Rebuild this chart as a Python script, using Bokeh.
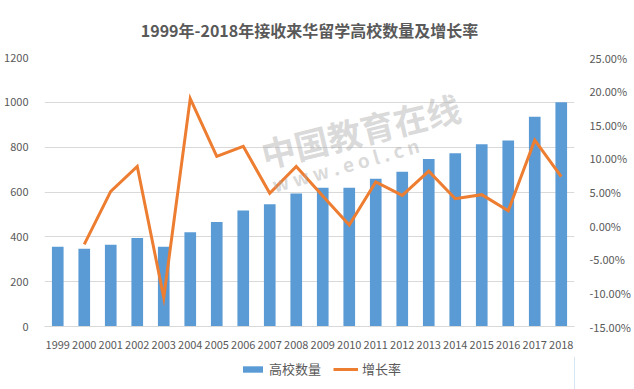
from bokeh.plotting import figure
from bokeh.layouts import column
from bokeh.models import (Range1d, LinearAxis, FixedTicker, NumeralTickFormatter,
                          Legend, LegendItem, Label, ColumnDataSource, FactorRange)
from bokeh.embed import file_html
from bokeh.resources import INLINE

years = [str(y) for y in range(1999, 2019)]
counts = [356, 347, 365, 395, 356, 420, 466, 518, 545, 593,
          619, 619, 659, 690, 747, 773, 813, 830, 936, 1000]
growth_years = years[1:]
growth_pct = [-2.8, 5.1, 8.8, -10.7, 18.9, 10.3, 11.8, 4.8, 8.8,
              4.4, 0.1, 6.5, 4.5, 8.1, 4.0, 4.6, 2.2, 12.7, 7.3]
left_ticks = [0, 200, 400, 600, 800, 1000, 1200]
right_ticks = [-0.15, -0.10, -0.05, 0.0, 0.05, 0.10, 0.15, 0.20, 0.25]
series_names = ["高校数量", "增长率"]

FONT = "Noto Sans CJK SC"
TXT = "#595959"
BAR_C = "#5b9bd5"
LINE_C = "#ed7d31"

W, H_MAIN, H_LEG = 634, 356, 33
p = figure(width=W, height=H_MAIN, output_backend="svg", toolbar_location=None,
           x_range=FactorRange(*years, range_padding=0),
           y_range=Range1d(0, 1200),
           min_border_left=44, min_border_right=60,
           min_border_top=54, min_border_bottom=30)
p.extra_y_ranges = {"rate": Range1d(-0.15, 0.25)}

p.outline_line_color = None
p.background_fill_color = "white"
p.border_fill_color = "white"

# grid
p.xgrid.grid_line_color = None
p.ygrid.grid_line_color = "#d9d9d9"
p.ygrid.grid_line_width = 1
p.ygrid.ticker = FixedTicker(ticks=left_ticks)

src_bar = ColumnDataSource(dict(x=years, y=counts))
src_line = ColumnDataSource(dict(x=growth_years, y=[v / 100 for v in growth_pct]))

bars = p.vbar(x="x", top="y", width=0.44, source=src_bar,
              fill_color=BAR_C, line_color=None)
line = p.line(x="x", y="y", source=src_line, y_range_name="rate",
              line_color=LINE_C, line_width=3, line_join="miter")

# watermark (drawn over the chart, semi-transparent)
wm1 = Label(x=217, y=172, x_units="screen", y_units="screen", text="中国教育在线",
            angle=0.24, text_font=FONT, text_font_size="34px", text_font_style="bold",
            text_color="#a6a6a6", text_alpha=0.42, text_baseline="middle")
wm2 = Label(x=228, y=142, x_units="screen", y_units="screen", text="w w w . e o l . c n",
            angle=0.27, text_font=FONT, text_font_size="19px", text_font_style="bold",
            text_color="#a6a6a6", text_alpha=0.42, text_baseline="middle")
p.add_layout(wm1)
p.add_layout(wm2)

# axes
ly = p.yaxis[0]
ly.ticker = FixedTicker(ticks=left_ticks)
ly.axis_line_color = None
ly.major_tick_line_color = None
ly.minor_tick_line_color = None
ly.major_label_text_font = FONT
ly.major_label_text_font_size = "11px"
ly.major_label_text_color = TXT
ly.major_label_standoff = 10

ry = LinearAxis(y_range_name="rate", ticker=FixedTicker(ticks=right_ticks),
                formatter=NumeralTickFormatter(format="0.00%"))
ry.axis_line_color = None
ry.major_tick_line_color = None
ry.minor_tick_line_color = None
ry.major_label_text_font = FONT
ry.major_label_text_font_size = "11px"
ry.major_label_text_color = TXT
ry.major_label_standoff = 9
p.add_layout(ry, "right")

xa = p.xaxis[0]
xa.axis_line_color = "#d9d9d9"
xa.major_tick_line_color = None
xa.minor_tick_line_color = None
xa.major_label_text_font = FONT
xa.major_label_text_font_size = "11px"
xa.major_label_text_color = TXT
xa.major_label_standoff = 8

# title
p.title.text = "1999年-2018年接收来华留学高校数量及增长率"
p.title.align = "center"
p.title.text_font = FONT
p.title.text_font_size = "16px"
p.title.text_font_style = "bold"
p.title.text_color = TXT
p.title.standoff = 31

# legend strip (separate small figure below the chart)
pl = figure(width=W, height=H_LEG, output_backend="svg", toolbar_location=None,
            x_range=Range1d(0, 1), y_range=Range1d(0, 1),
            x_axis_location=None, y_axis_location=None,
            min_border_left=0, min_border_right=0, min_border_top=0, min_border_bottom=0)
pl.grid.visible = False
pl.outline_line_color = None
pl.border_fill_color = "white"
# legend swatches: glyphs placed outside the visible range so only the legend shows them
lb = pl.vbar(x=[5], top=[1], width=0.5, fill_color=BAR_C, line_color=None)
ll = pl.line(x=[5, 6], y=[0.5, 0.5], line_color=LINE_C, line_width=3)
legend = Legend(items=[LegendItem(label=series_names[0], renderers=[lb]),
                       LegendItem(label=series_names[1], renderers=[ll])],
                orientation="horizontal", location=(196, 11),
                label_text_font=FONT, label_text_font_size="13px",
                label_text_color=TXT, glyph_width=25, glyph_height=8,
                label_height=16, label_standoff=4, spacing=12,
                padding=0, margin=0, border_line_color=None,
                background_fill_alpha=0)
pl.add_layout(legend, "center")

layout = column(p, pl, spacing=0)
open("out.html", "w").write(file_html(layout, INLINE))
